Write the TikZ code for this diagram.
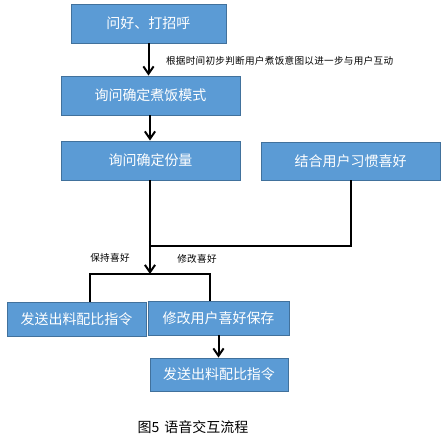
\documentclass[tikz,border=0pt]{standalone}
\usepackage{fontspec}
\newfontfamily\cjk{Noto Sans CJK SC}
\newfontfamily\cjkwide[LetterSpace=3]{Noto Sans CJK SC}
\usepackage{tikz}
\usetikzlibrary{arrows.meta,positioning}
\definecolor{stepblue}{HTML}{5B9BD5}
\definecolor{stepedge}{HTML}{41719C}
\tikzset{
    process/.style={rectangle, draw=stepedge, line width=0.9pt, fill=stepblue,
        text=white, inner sep=0pt, minimum height=39pt, align=center,
        font=\cjk\fontsize{14}{16}\selectfont},
    link/.style={line width=2pt, draw=black},
    flow/.style={-{Straight Barb[length=2.6mm,width=3.6mm]}, line width=2pt, draw=black},
    note/.style={font=\cjkwide\fontsize{9.6}{11}\selectfont, text=black, inner sep=0pt}
}

\begin{document}
\begin{tikzpicture}[x=1pt,y=1pt]
        \useasboundingbox (0,0) rectangle (448,-443);
        \node[process,minimum width=155pt] at (148.5,-23.5) (greet) {问好、打招呼};
        \node[process,minimum width=179pt] at (150.5,-95.5) (mode) {询问确定煮饭模式};
        \node[process,minimum width=179pt] at (150.5,-160.5) (amount) {询问确定份量};
        \node[process,minimum width=179pt,minimum height=38pt] at (350.5,-161) (habit) {结合用户习惯喜好};
        \node[process,minimum width=139pt,minimum height=34pt] at (76.5,-319) (keepsend) {发送出料配比指令};
        \node[process,minimum width=141pt,minimum height=34pt] at (218.5,-318) (savepref) {修改用户喜好保存};
        \node[process,minimum width=138pt,minimum height=33pt] at (219,-374.5) (newsend) {发送出料配比指令};
        \coordinate (merge) at (150,-246);
        \coordinate (split) at (150,-274);
        \draw[flow] (greet) -- (greet |- mode.north)
            node[note,anchor=west] at (165,-61) {根据时间初步判断用户煮饭意图以进一步与用户互动};
        \draw[flow] (mode.south -| 150,0) -- (amount.north -| 150,0);
        \draw[link] (amount.south -| 150,0) -- (merge);
        \draw[link] (habit) |- (merge);
        \draw[flow] (merge) -- (split);
        \draw[link] (split) -| ([xshift=13.5pt]keepsend.north);
        \draw[link] (split) -| ([xshift=-8.5pt]savepref.north);
        \draw[flow] (savepref) -- (savepref |- newsend.north);
        \node[note] at (110,-258) (keeplbl) {保持喜好};
        \node[note] at (197,-259) (editlbl) {修改喜好};
        \node[font=\cjk\fontsize{14}{16}\selectfont, inner sep=0pt] at (193,-427) (caption) {图5\hspace{5pt}语音交互流程};
    \end{tikzpicture}
\end{document}
